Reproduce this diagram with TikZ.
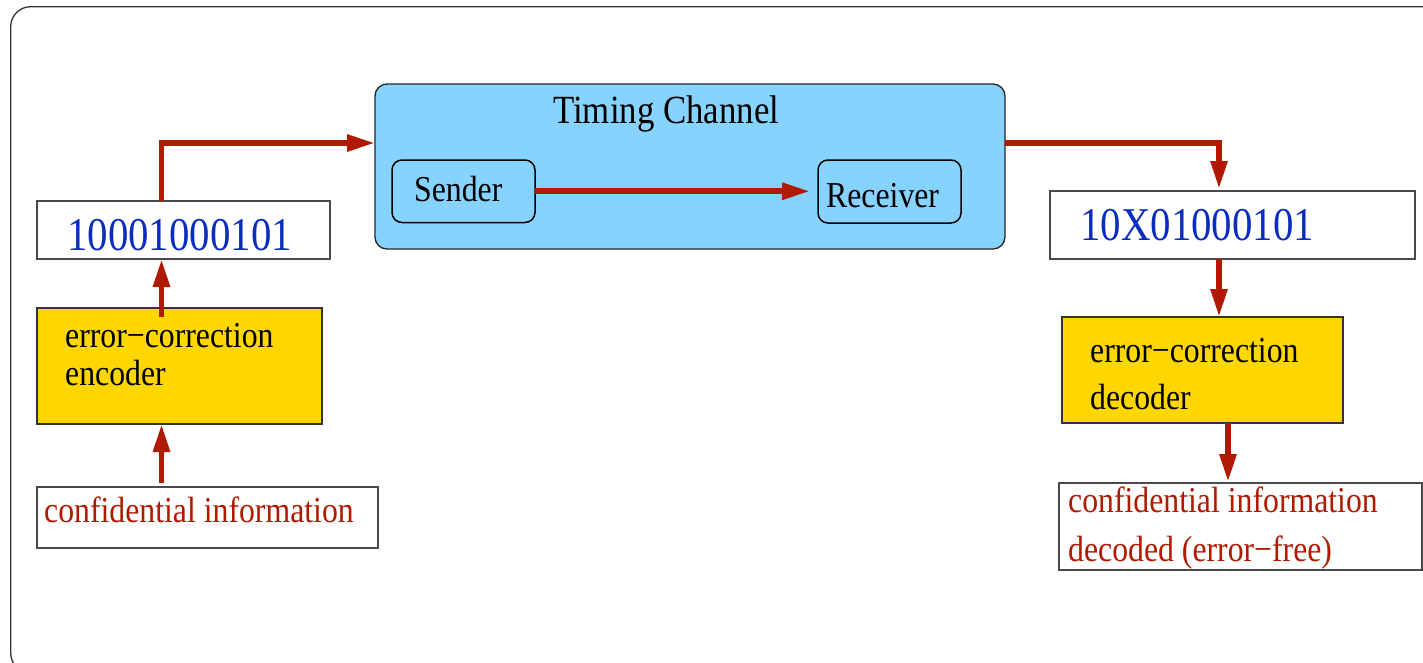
\documentclass[tikz,border=0pt]{standalone}
\usepackage{fontspec}
\setmainfont{Liberation Serif}[FakeStretch=0.87]
\usetikzlibrary{arrows.meta,calc}

\definecolor{chanfill}{HTML}{87D3FF}
\definecolor{codefill}{HTML}{FFD700}
\definecolor{linkred}{HTML}{B01A00}
\definecolor{bitblue}{HTML}{0B2DBE}
\definecolor{boxline}{HTML}{4A4A4A}

\begin{document}
\begin{tikzpicture}[x=1pt,y=-1pt,
  box/.style={draw=boxline, line width=1.3pt, inner sep=0pt, outer sep=0pt, anchor=north west},
  coder/.style={box, fill=codefill, draw=black!80},
  chanbox/.style={box, fill=chanfill, draw=black!85, rounded corners=12pt},
  party/.style={box, draw=black, line width=1.5pt, rounded corners=10pt},
  txt/.style={anchor=base west, inner sep=0pt, font=\fontsize{36.5}{40}\selectfont},
  bits/.style={txt, font=\fontsize{47}{50}\selectfont, text=bitblue},
  info/.style={txt, text=linkred},
  link/.style={draw=linkred, line width=5.8pt, -{Triangle[length=28pt,width=16pt]}}]

% canvas and outer frame
\fill[white] (0,0) rectangle (1423,662);
\useasboundingbox (0,0) rectangle (1423,662);
\draw[black!80, line width=1.3pt, rounded corners=20pt] (10.7,6.7) rectangle (1460,673);

% sender side
\node[box, minimum width=293pt, minimum height=58pt] (bitsA) at (37,201) {};
\node[bits] (bitsAtxt) at (67,250) {10001000101};
\node[coder, minimum width=285pt, minimum height=116pt] (enc) at (37,308) {};
\node[txt] (enctxt1) at (65,347) {error−correction};
\node[txt] (enctxt2) at (65,385) {encoder};
\node[box, minimum width=341pt, minimum height=61pt] (confL) at (37,487) {};
\node[info] (confLtxt) at (44,522) {confidential information};

% timing channel
\node[chanbox, minimum width=630pt, minimum height=165pt] (chan) at (375,84) {};
\node[txt, font=\fontsize{40}{44}\selectfont] (chantxt) at (553,123) {Timing Channel};
\node[party, minimum width=143pt, minimum height=62.5pt] (send) at (392,160) {};
\node[txt] (sendtxt) at (414,201) {Sender};
\node[party, minimum width=143pt, minimum height=63pt] (recv) at (818,160) {};
\node[txt] (recvtxt) at (826,207) {Receiver};

% receiver side
\node[box, minimum width=365pt, minimum height=68pt] (bitsB) at (1050,191) {};
\node[bits] (bitsBtxt) at (1080,240) {10X01000101};
\node[coder, minimum width=281pt, minimum height=106pt] (dec) at (1062,317) {};
\node[txt] (dectxt1) at (1090,362) {error−correction};
\node[txt] (dectxt2) at (1090,409) {decoder};
\node[box, minimum width=363pt, minimum height=87pt] (confR) at (1059,483) {};
\node[info] (confRtxt1) at (1068,512) {confidential information};
\node[info] (confRtxt2) at (1068,561) {decoded (error−free)};

% connectors
\draw[link] ($(confL.north west)+(124.5,-4)$) -- ($(enc.south west)+(124.5,0)$);
\draw[link] ($(enc.north west)+(124.5,9)$) -- ($(bitsA.south west)+(124.5,0)$);
\draw[link] ($(bitsA.north west)+(124.5,0)$) |- ($(chan.north west)+(0,59)$);
\draw[link] (send.east) -- ($(send.east -| recv.west)+(-8,0)$);
\draw[link] ($(chan.north east)+(0,59)$) -| ($(bitsB.north west)+(169,-2)$);
\draw[link] ($(bitsB.south west)+(169,0)$) -- ($(dec.north west)+(157,0)$);
\draw[link] ($(dec.south west)+(166,0)$) -- ($(confR.north west)+(169,-1)$);
\end{tikzpicture}
\end{document}
